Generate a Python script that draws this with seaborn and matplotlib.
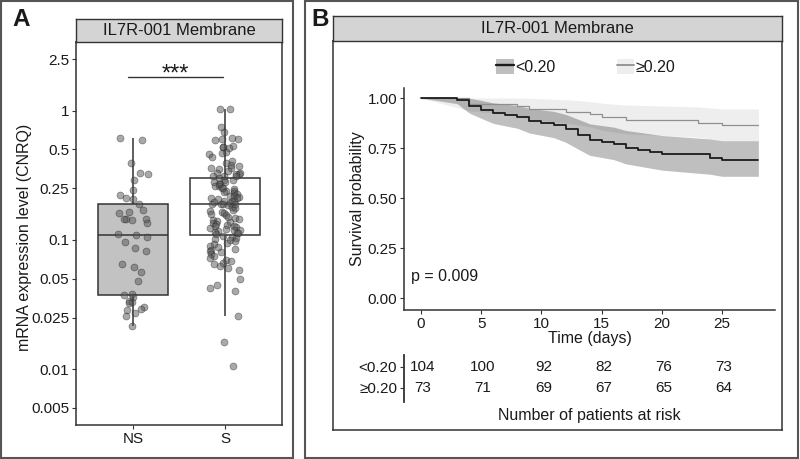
import numpy as np
import pandas as pd
import matplotlib
matplotlib.use("Agg")
import matplotlib.pyplot as plt
import seaborn as sns
from matplotlib.patches import Rectangle, Patch
from matplotlib.lines import Line2D

# ---------------- data ----------------
# panel A: mRNA expression (CNRQ) per group
groups = ["NS", "S"]
ns_values = [0.615, 0.587, 0.392, 0.33, 0.32, 0.288, 0.244, 0.222, 0.21, 0.205,
             0.188, 0.169, 0.165, 0.16, 0.146, 0.146, 0.146, 0.142, 0.135, 0.111,
             0.108, 0.105, 0.096, 0.086, 0.082, 0.065, 0.062, 0.056, 0.048, 0.0383,
             0.0375, 0.0362, 0.0334, 0.033, 0.0326, 0.0302, 0.029, 0.0285, 0.027,
             0.0256, 0.0214]
s_values = [1.03, 1.02, 0.74, 0.68, 0.61, 0.60, 0.60, 0.59, 0.53, 0.52,
            0.52, 0.51, 0.48, 0.47, 0.46, 0.44, 0.41, 0.39, 0.38, 0.37,
            0.36, 0.36, 0.35, 0.34, 0.33, 0.33, 0.32, 0.32, 0.31, 0.31, 0.31,
            0.30, 0.29, 0.29, 0.28, 0.28, 0.27, 0.27, 0.26, 0.26, 0.25,
            0.25, 0.245, 0.24, 0.24, 0.235, 0.23, 0.225, 0.22, 0.22, 0.215,
            0.21, 0.21, 0.205, 0.20, 0.20, 0.198, 0.195, 0.193, 0.19, 0.19, 0.19,
            0.188, 0.185, 0.18, 0.175, 0.17, 0.168, 0.165, 0.16, 0.158, 0.155,
            0.15, 0.148, 0.145, 0.142, 0.14, 0.138, 0.135, 0.133, 0.13, 0.128,
            0.127, 0.125, 0.123, 0.122, 0.12, 0.118, 0.116, 0.115, 0.113, 0.112, 0.11,
            0.107, 0.105, 0.104, 0.102, 0.1, 0.098, 0.095, 0.092, 0.09, 0.088,
            0.085, 0.084, 0.082, 0.08, 0.078, 0.075, 0.072, 0.07, 0.068, 0.066,
            0.065, 0.063, 0.061, 0.058, 0.05, 0.045, 0.042, 0.04, 0.0257,
            0.0163, 0.0106]
y_ticks = [2.5, 1, 0.5, 0.25, 0.1, 0.05, 0.025, 0.01, 0.005]
y_tick_labels = ["2.5", "1", "0.5", "0.25", "0.1", "0.05", "0.025", "0.01", "0.005"]

# panel B: death days per group, follow-up end
km_labels = ["<0.20", "≥0.20"]
lo_n = 104
lo_days = [3, 4, 4, 4, 5, 5, 6, 6, 7, 8, 9, 9, 10, 11, 12, 12, 13, 13, 13,
           14, 14, 14, 15, 16, 17, 17, 18, 19, 20, 24, 24, 25]
hi_n = 73
hi_days = [4, 4, 8, 9, 12, 14, 15, 17, 23, 25]
follow_up = 28
risk_times = [0, 5, 10, 15, 20, 25]
risk_lo = [104, 100, 92, 82, 76, 73]
risk_hi = [73, 71, 69, 67, 65, 64]
p_text = "p = 0.009"

# ---------------- style ----------------
sns.set_style("white")
plt.rcParams["font.family"] = ["Liberation Sans", "DejaVu Sans"]
plt.rcParams["text.color"] = "#1a1a1a"
plt.rcParams["axes.labelcolor"] = "#1a1a1a"
plt.rcParams["xtick.color"] = "#333333"
plt.rcParams["ytick.color"] = "#333333"
plt.rcParams["xtick.labelcolor"] = "#1a1a1a"
plt.rcParams["ytick.labelcolor"] = "#1a1a1a"

W, H = 800, 459
C_EDGE = "#333333"
C_STRIP = "#d4d4d4"


def rect(x0, y0, x1, y1):
    return [x0 / W, 1 - y1 / H, (x1 - x0) / W, (y1 - y0) / H]


def strip(fig, box, title):
    ax = fig.add_axes(rect(*box))
    ax.set_facecolor(C_STRIP)
    ax.set_xticks([]); ax.set_yticks([])
    for sp in ax.spines.values():
        sp.set_color(C_EDGE); sp.set_linewidth(1.0)
    ax.text(0.5, 0.5, title, ha="center", va="center", fontsize=12, transform=ax.transAxes)
    return ax


def km(days, n0, t_end):
    t, s, lo, hi = [0.0], [1.0], [1.0], [1.0]
    n, surv, var = n0, 1.0, 0.0
    for d_t in sorted(set(days)):
        d = days.count(d_t)
        surv *= 1 - d / n
        var += d / (n * (n - d))
        n -= d
        se = np.sqrt(var)
        t.append(d_t); s.append(surv)
        lo.append(surv * np.exp(-1.96 * se)); hi.append(min(1.0, surv * np.exp(1.96 * se)))
    t.append(t_end); s.append(s[-1]); lo.append(lo[-1]); hi.append(hi[-1])
    return np.array(t), np.array(s), np.array(lo), np.array(hi)


fig = plt.figure(figsize=(8, 4.59), dpi=100)

# outer panel frames
for x0, x1 in [(1, 293), (305, 798)]:
    fig.patches.append(Rectangle((x0 / W, 1 / H), (x1 - x0) / W, (H - 2) / H,
                                 transform=fig.transFigure, fill=False,
                                 edgecolor="#555555", lw=1.5))
fig.text(12 / W, 1 - 20 / H, "A", fontsize=17.5, fontweight="bold", va="center")
fig.text(311 / W, 1 - 20 / H, "B", fontsize=17.5, fontweight="bold", va="center")

# ---------------- panel A ----------------
df = pd.DataFrame({
    "group": ["NS"] * len(ns_values) + ["S"] * len(s_values),
    "value": ns_values + s_values,
})
df["logv"] = np.log10(df["value"])

axA = fig.add_axes(rect(76, 42, 282, 425))
sns.boxplot(data=df, x="group", y="logv", order=groups, hue="group",
            palette={"NS": "#c2c2c2", "S": "white"}, legend=False,
            width=0.76, showfliers=False, showcaps=False, whis=1.5,
            linecolor=C_EDGE, linewidth=1.1, ax=axA)
np.random.seed(7)
sns.stripplot(data=df, x="group", y="logv", order=groups, color="#555555",
              alpha=0.5, size=5, jitter=0.17, edgecolor="#222222", linewidth=0.5,
              ax=axA)
axA.set_xlim(-0.62, 1.62)
axA.set_ylim(np.log10(0.00369), 0.53)
axA.set_yticks(np.log10(y_ticks))
axA.set_yticklabels(y_tick_labels)
axA.set_xlabel("")
axA.set_ylabel("mRNA expression level (CNRQ)", fontsize=11.5)
axA.yaxis.set_label_coords(-0.214, 0.49)
axA.tick_params(axis="both", labelsize=11, length=3, width=0.8, left=True, bottom=True, pad=2)
for sp in axA.spines.values():
    sp.set_visible(True); sp.set_color(C_EDGE); sp.set_linewidth(1.1)
sig_y = np.log10(1.82)
axA.plot([-0.05, 0.98], [sig_y, sig_y], color=C_EDGE, lw=1)
axA.text(0.465, np.log10(1.7), "***", ha="center", va="baseline", fontsize=17)

strip(fig, (76, 19, 282, 42), "IL7R-001 Membrane")

# ---------------- panel B ----------------
frameB = fig.add_axes(rect(333, 41, 782, 430))
frameB.set_facecolor("none")
frameB.set_xticks([]); frameB.set_yticks([])
for sp in frameB.spines.values():
    sp.set_color(C_EDGE); sp.set_linewidth(1.1)
strip(fig, (333, 16, 782, 41), "IL7R-001 Membrane")

axB = fig.add_axes(rect(404, 88, 775, 310))
axB.set_facecolor("none")
band_cols = ["black", "#999999"]
band_alpha = [0.25, 0.16]
line_cols = ["#1c1c1c", "#8f8f8f"]
line_w = [1.3, 0.9]
curves = [km(lo_days, lo_n, follow_up), km(hi_days, hi_n, follow_up)]
for i in [1, 0]:
    t, s, lo, hi = curves[i]
    axB.fill_between(t, lo, hi, color=band_cols[i], alpha=band_alpha[i], lw=0)
for i in [1, 0]:
    t, s, lo, hi = curves[i]
    sns.lineplot(x=t, y=s, drawstyle="steps-post", color=line_cols[i],
                 lw=line_w[i], ax=axB, estimator=None, sort=False)
axB.set_xlim(-1.41, 29.38)
axB.set_ylim(-0.0585, 1.05)
axB.set_xticks(risk_times)
axB.set_yticks([0, 0.25, 0.5, 0.75, 1.0])
axB.set_yticklabels(["0.00", "0.25", "0.50", "0.75", "1.00"])
axB.set_xlabel("Time (days)", fontsize=11.5, labelpad=0)
axB.set_ylabel("Survival probability", fontsize=11.5, labelpad=2)
axB.tick_params(axis="both", labelsize=11, length=3, width=0.8, left=True, bottom=True, pad=2)
for side in ["top", "right"]:
    axB.spines[side].set_visible(False)
for side in ["left", "bottom"]:
    axB.spines[side].set_color(C_EDGE); axB.spines[side].set_linewidth(1.1)
axB.text(-0.83, 0.11, p_text, ha="left", va="center", fontsize=11.5)

handles = [
    (Patch(facecolor=band_cols[i], alpha=band_alpha[i], lw=0),
     Line2D([], [], color=line_cols[i], lw=line_w[i] + 0.4))
    for i in range(2)
]
fig.legend(handles, km_labels, loc="center", bbox_to_anchor=(586 / W, 1 - 67 / H),
           ncol=2, frameon=False, fontsize=11.5, columnspacing=3.8,
           handlelength=1.1, handleheight=1.1, handletextpad=0.1)

# risk table
axR = fig.add_axes(rect(404, 355, 775, 402))
axR.set_facecolor("none")
axR.set_xlim(-1.41, 29.38)
axR.set_ylim(-0.667, 1.571)
for tt, a, b in zip(risk_times, risk_lo, risk_hi):
    axR.text(tt + 0.15, 1, str(a), ha="center", va="center", fontsize=11)
    axR.text(tt + 0.15, 0, str(b), ha="center", va="center", fontsize=11)
axR.set_xticks([])
axR.set_yticks([1, 0])
axR.set_yticklabels(km_labels)
axR.tick_params(axis="y", labelsize=11, length=3, width=0.8, left=True, pad=2)
for side in ["top", "right", "bottom"]:
    axR.spines[side].set_visible(False)
axR.spines["left"].set_color(C_EDGE); axR.spines["left"].set_linewidth(1.3)
axR.set_xlabel("Number of patients at risk", fontsize=11.5, labelpad=4)

fig.savefig("out.png", dpi=100)
